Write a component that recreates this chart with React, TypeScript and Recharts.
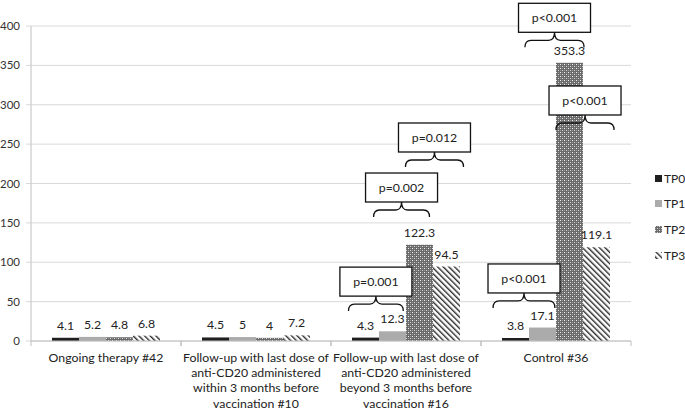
import React from 'react';
import {
  BarChart,
  Bar,
  XAxis,
  YAxis,
  CartesianGrid,
  LabelList,
  ReferenceDot,
} from 'recharts';

const FONT = "Lato, 'Noto Sans', sans-serif";
const FS = 12.3;

const CATEGORIES = [
  'Ongoing therapy #42',
  'Follow-up with last dose of\nanti-CD20 administered\nwithin 3 months before\nvaccination #10',
  'Follow-up with last dose of\nanti-CD20 administered\nbeyond 3 months before\nvaccination #16',
  'Control #36',
];
const TP0 = [4.1, 4.5, 4.3, 3.8];
const TP1 = [5.2, 5, 12.3, 17.1];
const TP2 = [4.8, 4, 122.3, 353.3];
const TP3 = [6.8, 7.2, 94.5, 119.1];
const Y_TICKS = [0, 50, 100, 150, 200, 250, 300, 350, 400];
const SERIES = ['TP0', 'TP1', 'TP2', 'TP3'];

// p-value brackets: group index, bar slots spanned, value at top of the brace
const P_GROUP = [2, 2, 2, 3, 3, 3];
const P_LABEL = ['p=0.001', 'p=0.002', 'p=0.012', 'p<0.001', 'p<0.001', 'p<0.001'];
const P_FROM = [-0.13, 0.8, 1.98, -0.33, 0.85, 2.0];
const P_TO = [1.9, 2.87, 4.13, 1.96, 3.04, 4.15];
const P_AT = [57, 176.5, 240, 61, 392, 287];

const BAR_W = 27;

const FILLS: Record<string, string> = {
  TP0: '#1e1e1e',
  TP1: '#ababab',
  TP2: 'url(#tp2pat)',
  TP3: 'url(#tp3pat)',
};

const data = CATEGORIES.map((name, i) => ({
  name,
  TP0: TP0[i],
  TP1: TP1[i],
  TP2: TP2[i],
  TP3: TP3[i],
}));

function PatternDefs({ prefix }: { prefix: string }) {
  return (
    <defs>
      <pattern id={`${prefix}tp2pat`} patternUnits="userSpaceOnUse" width={4} height={4}>
        <rect x={0} y={0} width={4} height={4} fill="#6a6a6a" />
        <rect x={0} y={0} width={1} height={1} fill="#f4f4f4" />
        <rect x={2} y={2} width={1} height={1} fill="#d8d8d8" />
        <rect x={2} y={0} width={1} height={1} fill="#9a9a9a" />
        <rect x={0} y={2} width={1} height={1} fill="#9a9a9a" />
      </pattern>
      <pattern
        id={`${prefix}tp3pat`}
        patternUnits="userSpaceOnUse"
        width={4}
        height={4}
        patternTransform="rotate(-45)"
      >
        <rect x={0} y={0} width={4} height={4} fill="#fff" />
        <rect x={0} y={0} width={1.4} height={4} fill="#2a2a2a" />
      </pattern>
    </defs>
  );
}

function CategoryTick(props: any) {
  const { x, y, payload } = props;
  const half = payload.offset ?? 75;
  const lines = String(payload.value).split('\n');
  return (
    <g>
      <line x1={x - half} x2={x - half} y1={y} y2={y + 5} stroke="#bfbfbf" />
      <line x1={x + half} x2={x + half} y1={y} y2={y + 5} stroke="#bfbfbf" />
      {lines.map((t, i) => (
        <text
          key={i}
          x={x}
          y={y + 16.5 + i * 15.2}
          textAnchor="middle"
          dominantBaseline="central"
          fontSize={FS}
          fontFamily={FONT}
          fill="#222"
        >
          {t}
        </text>
      ))}
    </g>
  );
}

function Bracket({ cx, cy, i }: { cx: number; cy: number; i: number }) {
  const left = cx - 2 * BAR_W;
  const x1 = left + P_FROM[i] * BAR_W;
  const x2 = left + P_TO[i] * BAR_W;
  const mid = (x1 + x2) / 2;
  const yt = cy;
  const ym = cy + 8;
  const yb = cy + 15;
  const r = 6;
  const d =
    `M${x1},${yb} Q${x1},${ym} ${x1 + r},${ym} L${mid - r},${ym} ` +
    `Q${mid},${ym} ${mid},${yt} Q${mid},${ym} ${mid + r},${ym} ` +
    `L${x2 - r},${ym} Q${x2},${ym} ${x2},${yb}`;
  const bw = 72;
  const bh = 29;
  return (
    <g>
      <path d={d} fill="none" stroke="#111" strokeWidth={1.3} />
      <rect x={mid - bw / 2} y={yt - bh} width={bw} height={bh} fill="#fff" stroke="#111" strokeWidth={1.3} />
      <text
        x={mid}
        y={yt - bh / 2}
        textAnchor="middle"
        dominantBaseline="central"
        fontSize={FS}
        fontFamily={FONT}
        fill="#222"
      >
        {P_LABEL[i]}
      </text>
    </g>
  );
}

function LegendBox() {
  const tops = [178, 203.5, 229, 255];
  return (
    <>
      {SERIES.map((s, i) => (
        <div
          key={s}
          style={{
            position: 'absolute',
            left: 655,
            top: tops[i] - 9,
            height: 18,
            display: 'flex',
            alignItems: 'center',
            fontFamily: FONT,
            fontSize: 12,
            color: '#222',
            whiteSpace: 'nowrap',
          }}
        >
          <svg width={7} height={7} style={{ marginRight: 2 }}>
            <PatternDefs prefix={`lg${i}`} />
            <rect
              x={0}
              y={0}
              width={7}
              height={7}
              fill={s === 'TP2' ? `url(#lg${i}tp2pat)` : s === 'TP3' ? `url(#lg${i}tp3pat)` : FILLS[s]}
            />
          </svg>
          {s}
        </div>
      ))}
    </>
  );
}

export default function App() {
  return (
    <div
      style={{
        position: 'absolute',
        left: 0,
        top: 0,
        width: 685,
        height: 410,
        background: '#fff',
        overflow: 'hidden',
      }}
    >
      <BarChart
        width={685}
        height={410}
        data={data}
        margin={{ top: 26, right: 54, bottom: 0, left: 0 }}
        barGap={0}
        barSize={BAR_W}
      >
        <PatternDefs prefix="" />
        <CartesianGrid vertical={false} stroke="#d9d9d9" />
        <XAxis
          dataKey="name"
          height={69}
          interval={0}
          tickSize={0}
          tickMargin={0}
          tickLine={false}
          axisLine={{ stroke: '#bfbfbf' }}
          tick={<CategoryTick />}
        />
        <YAxis
          width={31}
          domain={[0, 400]}
          ticks={Y_TICKS}
          interval={0}
          tickSize={5}
          tickMargin={6}
          axisLine={{ stroke: '#bfbfbf' }}
          tickLine={{ stroke: '#d9d9d9' }}
          tick={{ fill: '#333', fontSize: 11.5, fontFamily: FONT }}
        />
        {SERIES.map(s => (
          <Bar key={s} dataKey={s} fill={FILLS[s]} isAnimationActive={false}>
            <LabelList
              dataKey={s}
              position="top"
              offset={8}
              fill="#222"
              fontSize={FS}
              fontFamily={FONT}
            />
          </Bar>
        ))}
        {P_LABEL.map((_, i) => (
          <ReferenceDot
            key={i}
            x={CATEGORIES[P_GROUP[i]]}
            y={P_AT[i]}
            r={0}
            ifOverflow="visible"
            shape={(p: any) => <Bracket cx={p.cx} cy={p.cy} i={i} />}
          />
        ))}
      </BarChart>
      <LegendBox />
    </div>
  );
}
